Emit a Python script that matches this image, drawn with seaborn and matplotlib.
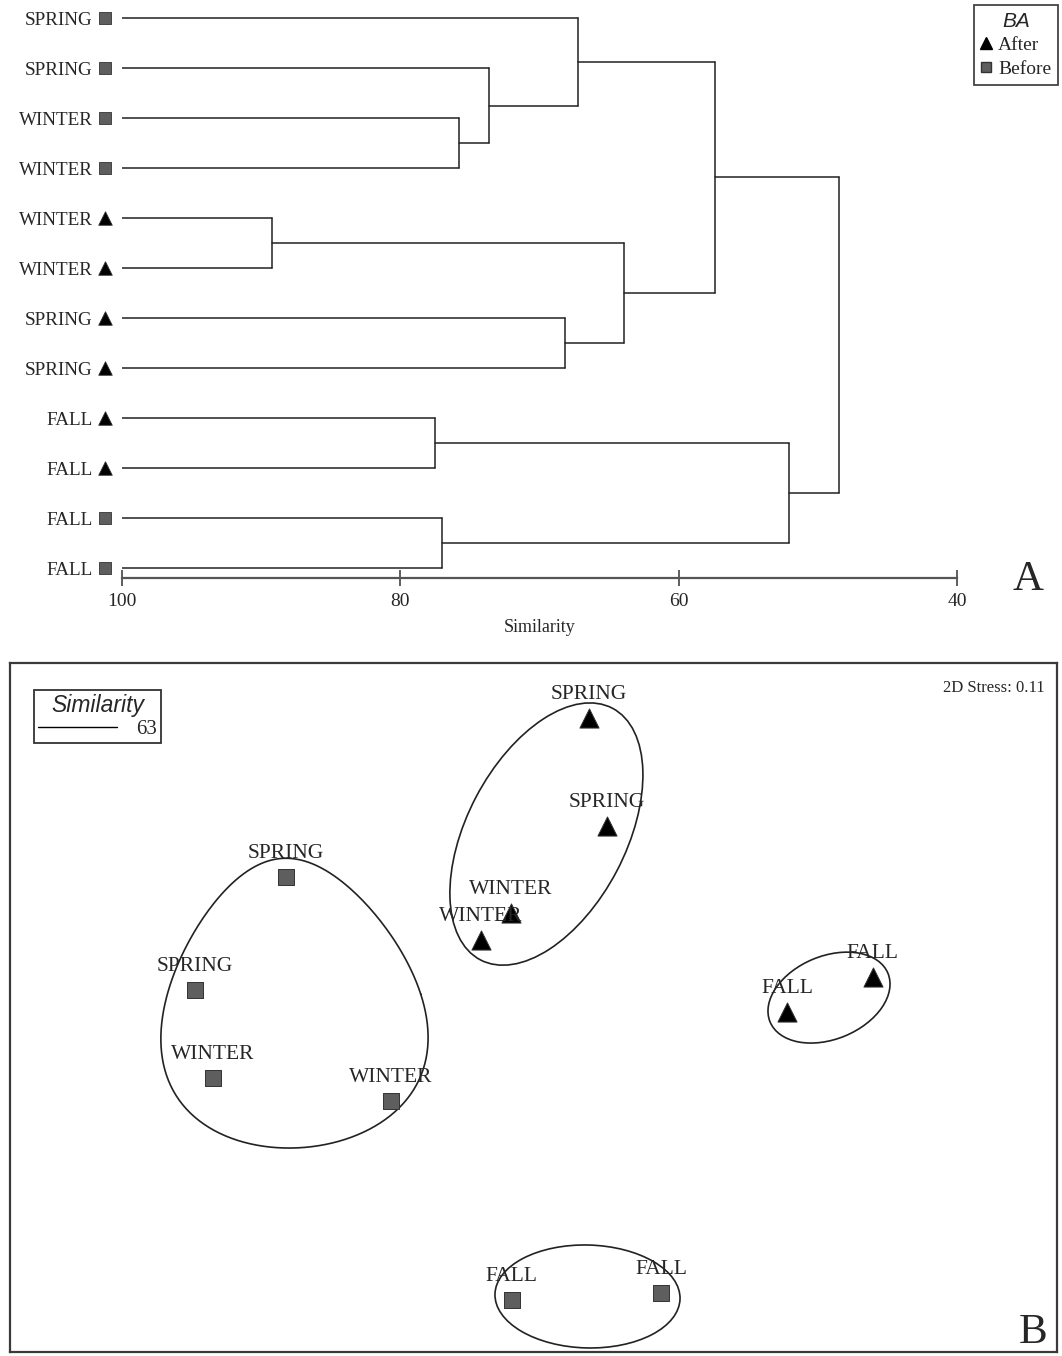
import numpy as np
import matplotlib
matplotlib.use('Agg')
import matplotlib.pyplot as plt
from matplotlib.patches import Ellipse
from matplotlib.lines import Line2D
import pandas as pd
import seaborn as sns

# ---- panel A: cluster dendrogram ----
leaf_season = ['SPRING', 'SPRING', 'WINTER', 'WINTER', 'WINTER', 'WINTER',
               'SPRING', 'SPRING', 'FALL', 'FALL', 'FALL', 'FALL']
leaf_ba = ['Before'] * 4 + ['After'] * 6 + ['Before'] * 2
# merges: new cluster ids start at 12
merge_left = [2, 1, 0, 4, 6, 15, 14, 8, 10, 19, 18]
merge_right = [3, 12, 13, 5, 7, 16, 17, 9, 11, 20, 21]
merge_sim = [75.8, 73.6, 67.2, 89.2, 68.2, 63.9, 57.4, 77.5, 77.0, 52.1, 48.5]
sim_ticks = [100, 80, 60, 40]

# ---- panel B: nMDS ordination ----
mds_season = ['SPRING', 'SPRING', 'WINTER', 'WINTER', 'FALL', 'FALL',
              'SPRING', 'SPRING', 'WINTER', 'WINTER', 'FALL', 'FALL']
mds_ba = ['After'] * 6 + ['Before'] * 6
mds_x = [0.185, 0.245, -0.075, -0.175, 0.845, 1.13,
         -0.825, -1.128, -1.068, -0.475, -0.072, 0.425]
mds_y = [0.965, 0.605, 0.315, 0.225, -0.015, 0.10,
         0.435, 0.058, -0.235, -0.312, -0.975, -0.952]
stress = 0.11
contour_level = 63
# similarity contours (centre x, centre y, width, height, angle)
contours = [(0.043, 0.578, 0.947, 0.53, 62.3),
            (0.985, 0.033, 0.425, 0.277, 22.4),
            (0.18, -0.963, 0.617, 0.343, -1.5)]
# egg-shaped contour round the Before spring/winter samples
egg = dict(cx=-0.805, cy=0.015, rx=0.43, ry=0.483, k=0.28, rot=4)

sns.set_style('white')
plt.rcParams['font.family'] = ['Liberation Serif', 'DejaVu Serif']

SERIF = 'Liberation Serif'
SANS = 'Liberation Sans'
marker_map = {'After': '^', 'Before': 's'}
color_map = {'After': 'black', 'Before': '#5e5e5e'}
line_col = '#222222'

fig = plt.figure(figsize=(10.62, 13.56), dpi=100)

# ---------- dendrogram ----------
ax = fig.add_axes([122 / 1062, 1 - 578 / 1356, 835 / 1062, 570 / 1356])
n = len(leaf_season)
pos_x = [100.0] * n
pos_y = list(range(n))
for l, r, h in zip(merge_left, merge_right, merge_sim):
    for c in (l, r):
        ax.plot([pos_x[c], h], [pos_y[c], pos_y[c]], color=line_col, lw=1.1)
    ax.plot([h, h], [pos_y[l], pos_y[r]], color=line_col, lw=1.1)
    pos_x.append(h)
    pos_y.append((pos_y[l] + pos_y[r]) / 2)

leaves = pd.DataFrame({'y': range(n), 'BA': leaf_ba, 'season': leaf_season})
leaves['x'] = 101.25
for ba, grp in leaves.groupby('BA'):
    sns.scatterplot(data=grp, x='x', y='y', ax=ax, marker=marker_map[ba],
                    color=color_map[ba], edgecolor='#333333', linewidth=0.6,
                    s=95 if ba == 'After' else 70, clip_on=False, legend=False)
for i, s in enumerate(leaf_season):
    ax.annotate(s, xy=(0, i), xycoords=ax.get_yaxis_transform(),
                xytext=(-21, -1.8), textcoords='offset points',
                ha='right', va='center', fontsize=13.8, family=SERIF)

ax.set_xlim(100, 40)
ax.set_ylim(n - 1 + 0.2, -0.2)
ax.set_xticks(sim_ticks)
ax.set_xticklabels([str(t) for t in sim_ticks], family=SERIF)
ax.set_yticks([])
ax.tick_params(axis='x', direction='inout', length=12, width=1.1,
               labelsize=14, pad=5, color='#333333', bottom=True)
ax.set_xlabel('Similarity', fontsize=13, family=SERIF, labelpad=6)
ax.set_ylabel('')
for side in ['top', 'right', 'left']:
    ax.spines[side].set_visible(False)
ax.spines['bottom'].set_color('#555555')
ax.spines['bottom'].set_linewidth(1.6)

handles = [Line2D([], [], marker='^', ls='', color='black', markersize=9),
           Line2D([], [], marker='s', ls='', color='#5e5e5e',
                  markeredgecolor='#333333', markersize=7.5)]
leg = fig.legend(handles, ['After', 'Before'], title='BA',
                 loc='upper right', bbox_to_anchor=(1058 / 1062, 1 - 5 / 1356),
                 bbox_transform=fig.transFigure, prop={'family': SERIF, 'size': 14},
                 handlelength=0.6, handletextpad=0.3, borderpad=0.35,
                 labelspacing=0.3, fancybox=False, framealpha=1,
                 edgecolor='#444444', borderaxespad=0)
leg.get_title().set_fontfamily(SANS)
leg.get_title().set_fontstyle('italic')
leg.get_title().set_fontsize(15)
leg.get_frame().set_linewidth(1.3)

fig.text(1028 / 1062, 1 - 580 / 1356, 'A', fontsize=31, family=SERIF,
         ha='center', va='center')

# ---------- nMDS ----------
bx = fig.add_axes([10 / 1062, 4 / 1356, 1047 / 1062, 689 / 1356])
mds = pd.DataFrame({'x': mds_x, 'y': mds_y, 'BA': mds_ba, 'season': mds_season})
for ba, grp in mds.groupby('BA'):
    sns.scatterplot(data=grp, x='x', y='y', ax=bx, marker=marker_map[ba],
                    color=color_map[ba], edgecolor='#333333', linewidth=0.7,
                    s=190 if ba == 'After' else 140, legend=False, zorder=3)
for x, y, s in zip(mds_x, mds_y, mds_season):
    bx.annotate(s, xy=(x, y), xytext=(0, 17), textcoords='offset points',
                ha='center', va='center', fontsize=15.5, family=SERIF, zorder=4)

for cx, cy, w, h, a in contours:
    bx.add_patch(Ellipse((cx, cy), w, h, angle=a, fill=False,
                         edgecolor=line_col, lw=1.2))
t = np.linspace(0, 2 * np.pi, 300)
ex = egg['rx'] * np.cos(t) * (1 - egg['k'] * np.sin(t))
ey = egg['ry'] * np.sin(t)
th = np.deg2rad(egg['rot'])
bx.plot(egg['cx'] + ex * np.cos(th) - ey * np.sin(th),
        egg['cy'] + ex * np.sin(th) + ey * np.cos(th), color=line_col, lw=1.2)

bx.set_xlim(-1.745, 1.745)
bx.set_ylim(-1.148, 1.148)
bx.set_xticks([])
bx.set_yticks([])
bx.set_xlabel('')
bx.set_ylabel('')
for sp in bx.spines.values():
    sp.set_color('#3a3a3a')
    sp.set_linewidth(1.6)

bx.text(0.988, 0.975, f'2D Stress: {stress}', transform=bx.transAxes,
        ha='right', va='top', fontsize=12, family=SERIF)

leg2 = bx.legend([Line2D([], [], color='black', lw=1)], [str(contour_level)],
                 title='Similarity', loc='upper left',
                 bbox_to_anchor=(24 / 1047, 1 - 27 / 689),
                 prop={'family': SERIF, 'size': 15}, handlelength=3.8,
                 handletextpad=0.9, borderpad=0.2, labelspacing=0.1,
                 fancybox=False, framealpha=1, edgecolor='#333333',
                 borderaxespad=0)
leg2.get_title().set_fontfamily(SANS)
leg2.get_title().set_fontstyle('italic')
leg2.get_title().set_fontsize(16.5)
leg2.get_frame().set_linewidth(1.3)

fig.text(1033 / 1062, 1 - 1333 / 1356, 'B', fontsize=31, family=SERIF,
         ha='center', va='center')

fig.savefig('out.png', dpi=100)
